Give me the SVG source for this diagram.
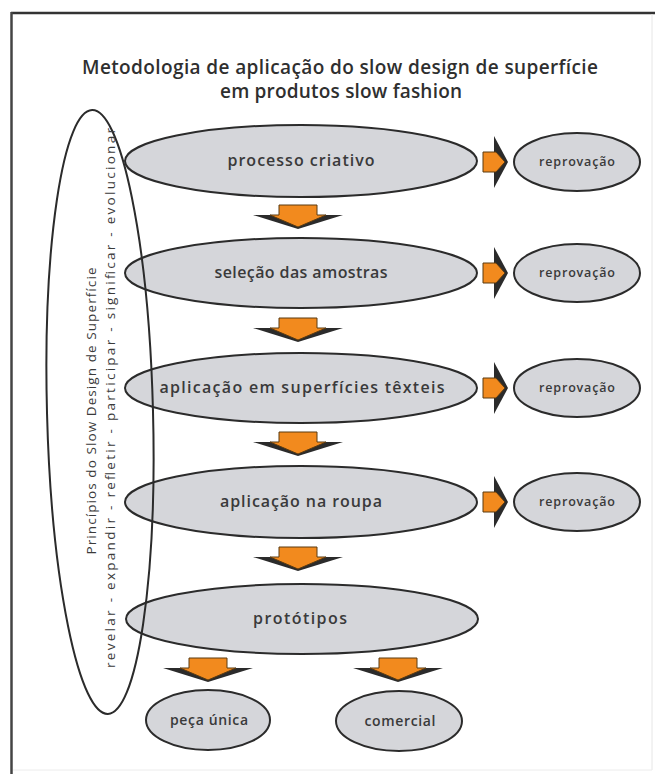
<svg xmlns="http://www.w3.org/2000/svg" width="655" height="774" viewBox="0 0 655 774">
<defs>
<style>
.node{fill:#d5d6da;stroke:#2b2b2b;stroke-width:2}
.t{font-family:"Open Sans","Liberation Sans",sans-serif;font-weight:600;fill:#3a3a3a;text-anchor:middle}
.big{font-size:16px}
.small{font-size:12.5px}
.title{font-family:"Open Sans","Liberation Sans",sans-serif;font-weight:600;fill:#2f2f2f;text-anchor:middle;font-size:19px}
.vt{font-family:"Open Sans","Liberation Sans",sans-serif;fill:#3a3a3a;text-anchor:middle;font-size:13.5px}
.ah{fill:#2b2b2b}
.af{fill:#f28a1e;stroke:#5a3a10;stroke-width:1}
</style>
<g id="down">
<polygon class="ah" points="-45,10 45,10 0,24"/>
<polygon class="af" points="-19,0 19,0 19,10 28,10 0,22 -28,10 -19,10"/>
</g>
<g id="right">
<polygon class="ah" points="11,-26 25,0 11,26"/>
<polygon class="af" points="0,-10 13,-10 22,0 13,10 0,10"/>
</g>
</defs>
<rect x="0" y="0" width="655" height="774" fill="#ffffff"/>
<g id="frame">
<line x1="11" y1="13" x2="655" y2="13" stroke="#333" stroke-width="2.5"/>
<line x1="11.5" y1="12" x2="11.5" y2="774" stroke="#444" stroke-width="2.5"/>
<line x1="652" y1="14" x2="652" y2="770" stroke="#e6e6e6" stroke-width="1"/>
<line x1="13" y1="770" x2="652" y2="770" stroke="#ececec" stroke-width="1"/>
</g>
<g id="title">
<text class="title" x="340" y="74" textLength="516" lengthAdjust="spacing">Metodologia de aplicação do slow design de superfície</text>
<text class="title" x="341" y="98" textLength="242" lengthAdjust="spacing">em produtos slow fashion</text>
</g>
<g id="n1"><ellipse class="node" cx="301" cy="161" rx="176" ry="36"/><text class="t big" x="301" y="166" textLength="147" lengthAdjust="spacing">processo criativo</text></g>
<g id="n2"><ellipse class="node" cx="301" cy="273" rx="176" ry="35"/><text class="t big" x="301" y="278" textLength="173" lengthAdjust="spacing">seleção das amostras</text></g>
<g id="n3"><ellipse class="node" cx="301" cy="388" rx="176" ry="35"/><text class="t big" x="302" y="393" textLength="285" lengthAdjust="spacing">aplicação em superfícies têxteis</text></g>
<g id="n4"><ellipse class="node" cx="301" cy="502" rx="176" ry="36"/><text class="t big" x="301" y="507" textLength="162" lengthAdjust="spacing">aplicação na roupa</text></g>
<g id="n5"><ellipse class="node" cx="302" cy="619" rx="176" ry="35"/><text class="t big" x="300" y="624" textLength="94" lengthAdjust="spacing">protótipos</text></g>
<g id="r1"><ellipse class="node" cx="577" cy="162" rx="63" ry="29"/><text class="t small" x="577" y="166" textLength="76" lengthAdjust="spacing">reprovação</text></g>
<g id="r2"><ellipse class="node" cx="577" cy="273" rx="63" ry="29"/><text class="t small" x="577" y="277" textLength="76" lengthAdjust="spacing">reprovação</text></g>
<g id="r3"><ellipse class="node" cx="577" cy="388" rx="63" ry="29"/><text class="t small" x="577" y="392" textLength="76" lengthAdjust="spacing">reprovação</text></g>
<g id="r4"><ellipse class="node" cx="577" cy="502" rx="63" ry="29"/><text class="t small" x="577" y="506" textLength="76" lengthAdjust="spacing">reprovação</text></g>
<g id="p1"><ellipse class="node" cx="208" cy="720" rx="62" ry="30"/><text class="t" font-size="14" x="209" y="725" textLength="78" lengthAdjust="spacing">peça única</text></g>
<g id="p2"><ellipse class="node" cx="399" cy="721" rx="63" ry="30"/><text class="t" font-size="14" x="400" y="726" textLength="71" lengthAdjust="spacing">comercial</text></g>
<g id="principles">
<ellipse cx="100" cy="412" rx="53" ry="302" fill="none" stroke="#2b2b2b" stroke-width="2" transform="rotate(-1.5 100 412)"/>
<text class="vt" transform="translate(96 411) rotate(-90)" textLength="287" lengthAdjust="spacing">Princípios do Slow Design de Superfície</text>
<text class="vt" transform="translate(115 398) rotate(-90)" textLength="540" lengthAdjust="spacing">revelar - expandir - refletir - participar - significar - evolucionar</text>
</g>
<g id="connectors">
<use href="#down" x="298" y="205"/>
<use href="#down" x="298" y="318"/>
<use href="#down" x="298" y="432"/>
<use href="#down" x="298" y="547"/>
<use href="#down" x="208" y="658"/>
<use href="#down" x="398" y="658"/>
<use href="#right" x="483" y="162"/>
<use href="#right" x="483" y="273"/>
<use href="#right" x="483" y="388"/>
<use href="#right" x="483" y="502"/>
</g>
</svg>
